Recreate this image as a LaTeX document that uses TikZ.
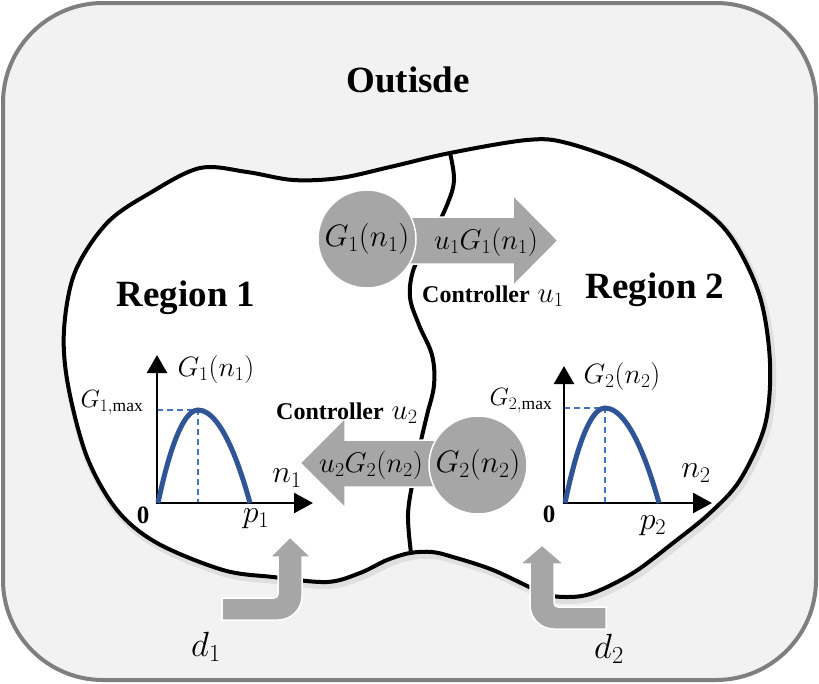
\RequirePackage{fix-cm}
\documentclass[tikz,border=0pt]{standalone}
\usepackage{fontspec}
\setmainfont{Liberation Serif}
\usetikzlibrary{arrows.meta}
\definecolor{bgc}{HTML}{F2F2F2}
\definecolor{framec}{HTML}{7F7F7F}
\definecolor{flowc}{HTML}{A6A6A6}
\definecolor{curvec}{HTML}{2F5597}
\definecolor{dashc}{HTML}{4472C4}
\tikzset{
  flow/.style={fill=flowc, draw=white, line width=1.5pt},
  bigtitle/.style={font=\bfseries\fontsize{37}{40}\selectfont, anchor=base, inner sep=0pt},
  ctrl/.style={font=\bfseries\fontsize{24}{26}\selectfont, anchor=base west, inner sep=0pt},
  circlbl/.style={flow, circle, minimum size=98pt, inner sep=0pt, font=\fontsize{31}{34}\selectfont},
  arrlbl/.style={font=\fontsize{28.5}{31}\selectfont, inner sep=0pt},
  glbl/.style={font=\fontsize{28}{30}\selectfont, inner sep=0pt},
  maxlbl/.style={font=\fontsize{25}{28}\selectfont, inner sep=0pt},
  axlbl/.style={font=\fontsize{32}{35}\selectfont, inner sep=0pt},
  zerolbl/.style={font=\bfseries\fontsize{25}{27}\selectfont, inner sep=0pt},
  dlbl/.style={font=\fontsize{35}{38}\selectfont, inner sep=0pt},
  axis/.style={line width=2.6pt, {Triangle[length=18pt,width=20pt]}-{Triangle[length=19pt,width=20pt]}},
  guide/.style={dashc, line width=1.5pt, dash pattern=on 6pt off 4pt},
  gcurve/.style={curvec, line width=5pt},
  border/.style={line width=4pt}
}
\begin{document}
\begin{tikzpicture}[x=1pt,y=-1pt]
\useasboundingbox (0,0) rectangle (819,683);
% outer frame
\draw[framec, fill=bgc, line width=4pt, rounded corners=100pt] (3,3) rectangle (816,680);
\node[bigtitle] (outside) at (408,92) {Outisde};
% blob shadow and blob
\def\blob{plot[smooth cycle, tension=0.55] coordinates {(107,223) (150,193) (200,168) (247,172) (293,180) (340,178) (390,167) (450,153) (527,140) (567,143) (633,167) (700,207) (733,240) (760,297) (770,363) (765,425) (740,480) (710,513) (673,543) (633,573) (593,593) (567,597) (543,593) (493,570) (453,557) (432,552) (410,553) (387,560) (360,573) (327,582) (273,577) (223,570) (157,543) (117,510) (87,457) (68,385) (64,330) (75,272)}}
\draw[black, opacity=0.08, line width=8pt, shift={(2,3)}] \blob;
\draw[border, fill=white] \blob;
% divider
\draw[border] plot[smooth, tension=0.6] coordinates {(450,153) (454,180) (447,205) (430,240) (414,268) (410,297) (419,325) (432,355) (434,385) (427,415) (420,445) (413,480) (408,515) (411,553)};
% flow arrows
\path[flow] (395,217) -- (513,217) -- (513,195) -- (558,240.5) -- (513,286) -- (513,264) -- (395,264) -- cycle;
\path[flow] (450,440) -- (345,440) -- (345,418) -- (300,463) -- (345,508) -- (345,487) -- (450,487) -- cycle;
\node[circlbl] (g1) at (367,239) {$G_1(n_1)$};
\node[circlbl] (g2) at (478,465) {$G_2(n_2)$};
\node[arrlbl] (f1) at (486,242) {$u_1G_1(n_1)$};
\node[arrlbl] (f2) at (371,465) {$u_2G_2(n_2)$};
% labels
\node[bigtitle] (r1) at (186,306) {Region 1};
\node[bigtitle] (r2) at (655,298) {Region 2};
\node[ctrl] (c1) at (422,302) {Controller\hspace{8pt}\fontsize{29}{31}\selectfont$u_1$};
\node[ctrl] (c2) at (276,419) {Controller\hspace{8pt}\fontsize{29}{31}\selectfont$u_2$};
% graph 1
\draw[guide] (157,410) -- (198,410) -- (198,503);
\draw[axis] (157,355) -- (157,503) -- (313,503);
\draw[gcurve] (158,503) parabola bend (198,410) (250,503);
\node[glbl] (ga) at (216,369) {$G_1(n_1)$};
\node[maxlbl] (gm1) at (112,403) {$G_{1,\mathrm{max}}$};
\node[zerolbl] (z1) at (143,515) {0};
\node[axlbl] (p1) at (256,519) {$p_1$};
\node[axlbl] (n1) at (287,478) {$n_1$};
% graph 2
\draw[guide] (564,408) -- (605,408) -- (605,503);
\draw[axis] (564,366) -- (564,503) -- (712,503);
\draw[gcurve] (565,503) parabola bend (605,408) (659,503);
\node[glbl] (gb) at (622,376) {$G_2(n_2)$};
\node[maxlbl] (gm2) at (521,401) {$G_{2,\mathrm{max}}$};
\node[zerolbl] (z2) at (549,514) {0};
\node[axlbl] (p2) at (653,526) {$p_2$};
\node[axlbl] (n2) at (696,473) {$n_2$};
% inflow arrows
\path[flow] (222,598) [rounded corners=4pt] -- (278,598) [sharp corners] -- (278,557) -- (270,557) -- (290,537) -- (311,557) -- (302,557) [rounded corners=24pt] -- (302,620) [sharp corners] -- (222,620) -- cycle;
\path[flow] (606,607) [rounded corners=4pt] -- (554,607) [sharp corners] -- (554,564) -- (564,564) -- (542,545) -- (520,564) -- (530,564) [rounded corners=24pt] -- (530,629) [sharp corners] -- (606,629) -- cycle;
\node[dlbl] (d1) at (206,647) {$d_1$};
\node[dlbl] (d2) at (609,649) {$d_2$};
\end{tikzpicture}
\end{document}
